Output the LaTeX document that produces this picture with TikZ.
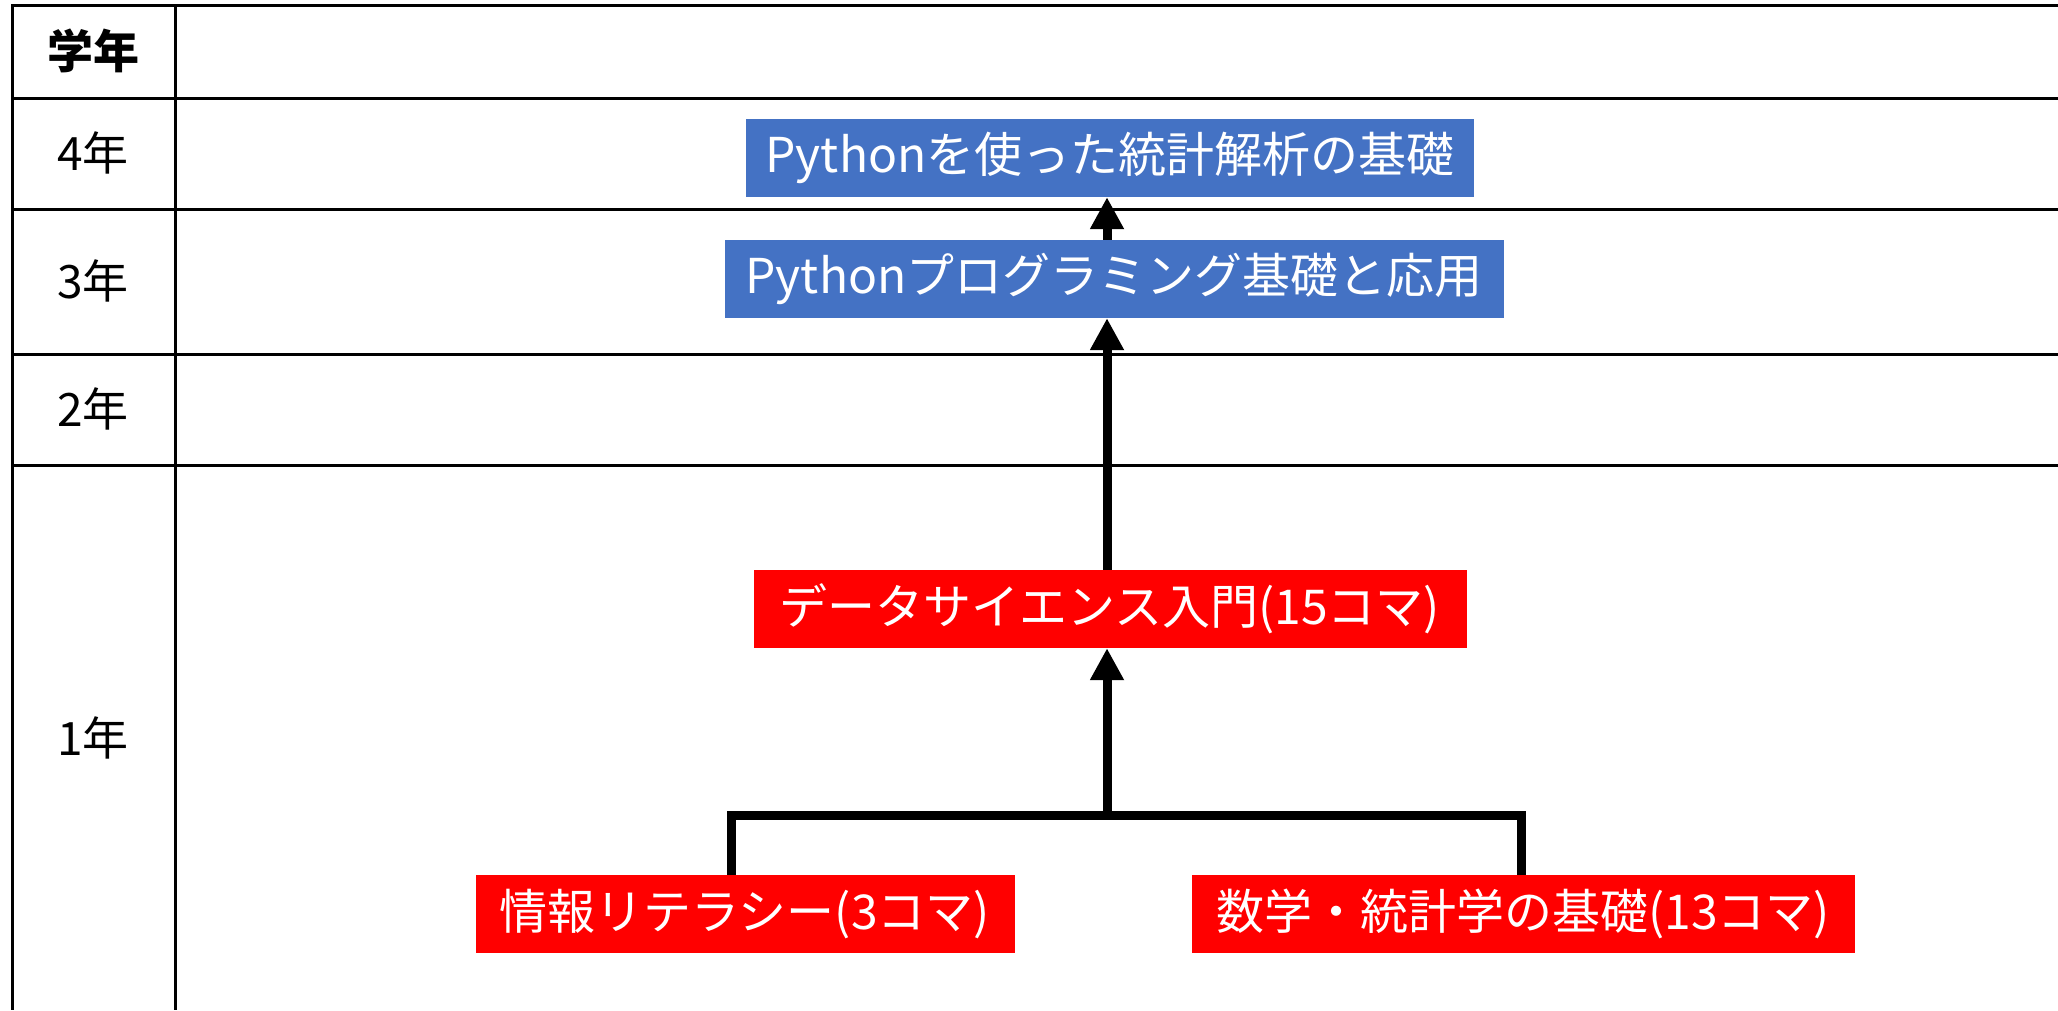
\documentclass[tikz,border=0pt]{standalone}
\usepackage{fontspec}
\setmainfont{Noto Sans CJK JP}
\usetikzlibrary{arrows.meta,positioning}
\definecolor{pyblue}{HTML}{4472C4}
\definecolor{dsred}{HTML}{FF0000}

\begin{document}
\begin{tikzpicture}[x=1pt,y=-1pt]
    \tikzset{block/.style= {rectangle, text=white
    , minimum height=78pt
    , inner sep=0pt
    , font=\fontsize{48}{54}\selectfont
      }
    , blue block/.style={block, fill=pyblue}
    , red block/.style={block, fill=dsred}
    , grade/.style={font=\fontsize{46}{52}\selectfont}
    , rule/.style={line width=3pt}
    , link/.style={line width=9pt, -{Triangle[width=32pt,length=32pt]}}
    }
\useasboundingbox (0,0) rectangle (2058,1010);

% table
\draw[rule] (2058,5) -- (12,5) -- (12,1010);
\draw[rule] (175,5) -- (175,1010);
\foreach \y in {98,209,354,465}
  \draw[rule] (12,\y) -- (2058,\y);

\node [grade, font=\fontsize{46}{52}\selectfont\bfseries] (head) at (93,51) {学年};
\node [grade] (year4) at (93,153) {4年};
\node [grade] (year3) at (93,281) {3年};
\node [grade] (year2) at (93,409) {2年};
\node [grade] (year1) at (93,738) {1年};

% courses
\node [blue block, minimum width=728pt] (stats) at (1110,158) {Pythonを使った統計解析の基礎};
\node [blue block, minimum width=779pt] (prog) at (1114,279) {Pythonプログラミング基礎と応用};
\node [red block, minimum width=713pt] (intro) at (1110,609) {データサイエンス入門(15コマ)};
\node [red block, minimum width=539pt] (info) at (745,914) {情報リテラシー(3コマ)};
\node [red block, minimum width=663pt] (math) at (1523,914) {数学・統計学の基礎(13コマ)};

\coordinate (jl) at (731,815);
\coordinate (jr) at (1521,815);
\coordinate (jm) at (1107,815);

 \draw[line width=9pt] (info.north -| jl) -- (jl) -- (jr) -- (math.north -| jr);
 \path[draw, link] (jm) -- (jm |- intro.south);
 \path[draw, link] (jm |- intro.north) -- (jm |- prog.south);
 \path[draw, link] (jm |- prog.north) -- (jm |- stats.south);
\end{tikzpicture}
\end{document}
